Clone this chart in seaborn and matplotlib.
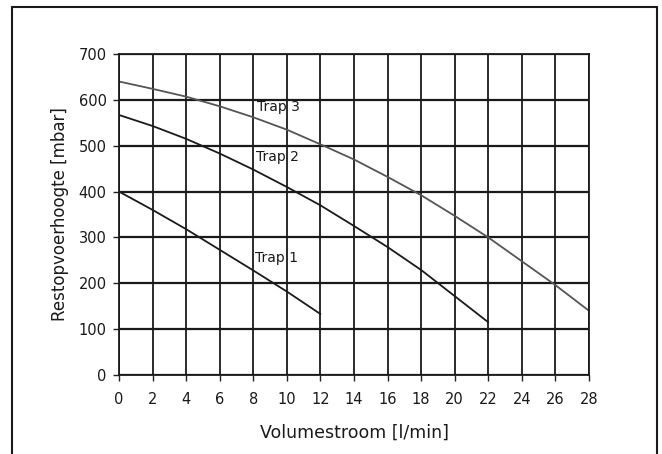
import matplotlib
matplotlib.use("Agg")
import matplotlib.pyplot as plt
import seaborn as sns
import pandas as pd
from matplotlib.patches import Rectangle

# Data
trap1_x = [0, 2, 4, 6, 8, 10, 12]
trap1_y = [400, 360, 318, 273, 228, 182, 133]
trap2_x = [0, 2, 4, 6, 8, 10, 12, 14, 16, 18, 20, 22]
trap2_y = [567, 543, 515, 483, 448, 410, 370, 325, 279, 229, 172, 115]
trap3_x = [0, 2, 4, 6, 8, 10, 12, 14, 16, 18, 20, 22, 24, 26, 28]
trap3_y = [640, 624, 607, 586, 562, 535, 503, 470, 432, 392, 347, 300, 248, 196, 140]
series_names = ["Trap 1", "Trap 2", "Trap 3"]
label_pos = {"Trap 1": (8.1, 255), "Trap 2": (8.15, 475), "Trap 3": (8.25, 584)}
x_ticks = list(range(0, 29, 2))
y_ticks = list(range(0, 701, 100))

df = pd.concat([
    pd.DataFrame({"x": trap1_x, "y": trap1_y, "serie": "Trap 1"}),
    pd.DataFrame({"x": trap2_x, "y": trap2_y, "serie": "Trap 2"}),
    pd.DataFrame({"x": trap3_x, "y": trap3_y, "serie": "Trap 3"}),
])

sns.set_style("white")
plt.rcParams["font.family"] = ["DejaVu Sans"]

fig = plt.figure(figsize=(6.62, 4.54), dpi=100)
ax = fig.add_axes([119 / 662, 1 - 375 / 454, (589 - 119) / 662, (375 - 54) / 454])

palette = {"Trap 1": "#1a1a1a", "Trap 2": "#1a1a1a", "Trap 3": "#555555"}
sns.lineplot(data=df, x="x", y="y", hue="serie", palette=palette, ax=ax,
             legend=False, linewidth=1.3, sort=True)

ax.set_xlim(0, 28)
ax.set_ylim(0, 700)
ax.set_xticks(x_ticks)
ax.set_yticks(y_ticks)
ax.set_xticklabels([str(t) for t in x_ticks], fontsize=10.5)
ax.set_yticklabels([str(t) for t in y_ticks], fontsize=10.5)
ax.tick_params(axis="x", direction="out", length=4, width=1, color="#222222",
               pad=8, labelcolor="#1a1a1a", bottom=True)
ax.tick_params(axis="y", direction="out", length=4, width=1, color="#222222",
               pad=5, labelcolor="#1a1a1a", left=True)

for xv in x_ticks:
    ax.axvline(xv, color="#1a1a1a", lw=1.3, zorder=0)
for yv in y_ticks:
    ax.axhline(yv, color="#1a1a1a", lw=1.6, zorder=0)

for s in ax.spines.values():
    s.set_color("#1a1a1a")
    s.set_linewidth(1.3)

ax.set_xlabel("Volumestroom [l/min]", fontsize=12.5, labelpad=12, color="#1a1a1a")
ax.set_ylabel("Restopvoerhoogte [mbar]", fontsize=12, labelpad=7, color="#1a1a1a")

for name in series_names:
    px, py = label_pos[name]
    ax.text(px, py, name, fontsize=10, va="center", ha="left", color="#1a1a1a")

fig.patches.append(Rectangle((11.5 / 662, -0.05), (657 - 11.5) / 662, 1.05 - 6.5 / 454,
                             transform=fig.transFigure, fill=False,
                             edgecolor="#1a1a1a", linewidth=1.5))

fig.savefig("out.png", dpi=100)
